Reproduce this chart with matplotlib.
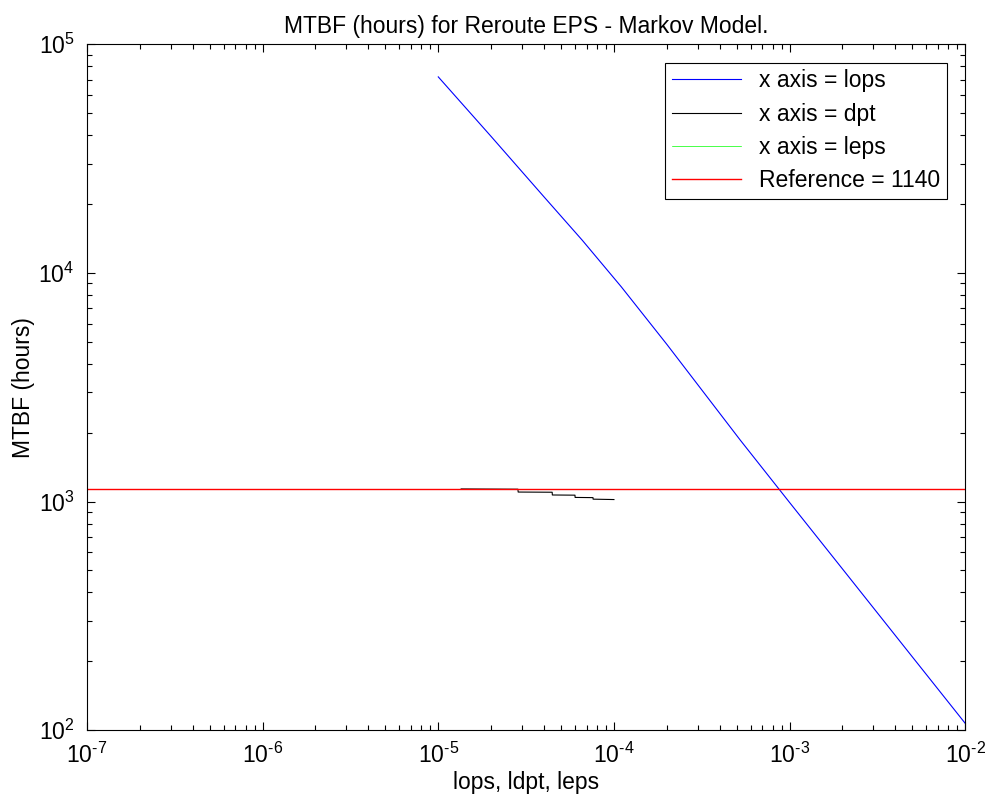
import matplotlib
matplotlib.use("Agg")
import numpy as np
import matplotlib.pyplot as plt
from matplotlib.ticker import LogLocator, NullFormatter, FuncFormatter

plt.rcParams['font.family'] = ['Liberation Sans', 'DejaVu Sans']
plt.rcParams['mathtext.fontset'] = 'custom'
plt.rcParams['mathtext.rm'] = 'Liberation Sans'
plt.rcParams['mathtext.it'] = 'Liberation Sans'
plt.rcParams['mathtext.default'] = 'regular'
plt.rcParams['axes.unicode_minus'] = False

# MTBF vs failure rate of the operator link (lops)
lops_x = [1e-5, 2e-5, 4e-5, 6.6e-5, 1.1e-4, 2e-4, 5.24e-4, 1e-3, 2e-3, 5e-3, 1e-2]
lops_y = [72000, 39500, 21500, 13900, 8700, 4870, 1855, 990, 507, 209, 107]

# MTBF vs detection probability term (dpt)
dpt_x = [1.35e-5, 2.84e-5, 2.85e-5, 4.45e-5, 4.46e-5, 6.0e-5, 6.01e-5, 7.6e-5, 7.61e-5, 1e-4]
dpt_y = [1135, 1132, 1100, 1098, 1068, 1066, 1042, 1040, 1024, 1020]

# MTBF vs EPS failure rate (leps)
leps_x = [1e-6, 1e-5, 1e-4, 1e-3, 1e-2]
leps_y = [1140, 1140, 1140, 1140, 1140]

# Reference MTBF
ref_x = [1e-7, 1e-2]
ref_value = 1140
ref_y = [ref_value, ref_value]


def pow10_label(v, pos):
    e = int(round(np.log10(v)))
    return r'$10^{\text{%d}}$' % e


fig = plt.figure(figsize=(9.88, 8.05), dpi=100)
ax = fig.add_axes([0.088, 0.093, 0.889, 0.852])

ax.plot(lops_x, lops_y, color='#0000ff', lw=0.8, label='x axis = lops')
ax.plot(dpt_x, dpt_y, color='#000000', lw=0.8, label='x axis = dpt')
ax.plot(leps_x, leps_y, color='#00ff00', lw=0.5, label='x axis = leps')
ax.plot(ref_x, ref_y, color='#ff0000', lw=1.0, label=f'Reference = {ref_value}')

ax.set_xscale('log')
ax.set_yscale('log')
ax.set_xlim(1e-7, 1e-2)
ax.set_ylim(1e2, 1e5)

ax.xaxis.set_major_locator(LogLocator(base=10, numticks=20))
ax.yaxis.set_major_locator(LogLocator(base=10, numticks=20))
ax.xaxis.set_minor_locator(LogLocator(base=10, subs=range(2, 10), numticks=20))
ax.yaxis.set_minor_locator(LogLocator(base=10, subs=range(2, 10), numticks=20))
ax.xaxis.set_major_formatter(FuncFormatter(pow10_label))
ax.yaxis.set_major_formatter(FuncFormatter(pow10_label))
ax.xaxis.set_minor_formatter(NullFormatter())
ax.yaxis.set_minor_formatter(NullFormatter())

ax.tick_params(which='both', direction='in', top=True, right=True,
               labelsize=16.5, width=0.8, color='black')
ax.tick_params(which='major', length=6, pad=9)
ax.tick_params(which='minor', length=3.5)
for s in ax.spines.values():
    s.set_linewidth(0.8)

ax.set_title('MTBF (hours) for Reroute EPS - Markov Model.', fontsize=16.5, pad=8)
ax.set_xlabel('lops, ldpt, leps', fontsize=16.5, labelpad=2)
ax.set_ylabel('MTBF (hours)', fontsize=16.5, labelpad=2)

leg = ax.legend(loc='upper right', fontsize=16.5, frameon=True, fancybox=False,
                edgecolor='black', framealpha=1, handlelength=3.0,
                borderaxespad=0.8, labelspacing=0.45, borderpad=0.3)
leg.get_frame().set_linewidth(0.8)

fig.savefig('out.png', dpi=100)
